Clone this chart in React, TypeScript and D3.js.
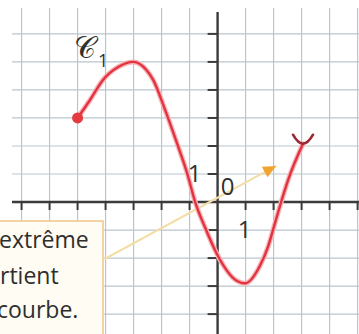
import React from 'react';
import * as d3 from 'd3';

const W = 359;
const H = 334;

// repère : origine et unité (1 carreau = 1 unité)
const xDomain = [-7.77, 5.05];
const yDomain = [7.21, -4.71];

const gridXs = [-7, -6, -5, -4, -3, -2, -1, 0, 1, 2, 3, 4, 5];
const gridYs = [6, 5, 4, 3, 2, 1, 0, -1, -2, -3, -4];
const xTicks = [-7, -6, -5, -4, -3, -2, -1, 1, 2, 3, 4, 5];
const yTicks = [6, 5, 4, 3, 2, 1, -1, -2, -3, -4];

// courbe C1 (points relevés)
const curveX = [-5, -4.55, -4.1, -3.55, -3, -2.54, -2.3, -1.875, -1.45, -1.09, -0.8, -0.45, 0, 0.27, 0.6, 0.98, 1.5, 1.8, 2.05, 2.27, 2.52, 3.05];
const curveY = [3, 3.65, 4.35, 4.82, 5, 4.71, 4.36, 3.29, 2.1, 1.04, 0, -0.9, -1.9, -2.36, -2.75, -2.9, -2.3, -1.6, -0.75, 0, 0.79, 2.08];

const arrowFrom = [-4.05, -2.04];
const arrowTo = [2.09, 1.29];

const calloutLines = ['extrême', 'rtient', 'courbe.'];

const x = d3.scaleLinear().domain(xDomain).range([0, W]);
const y = d3.scaleLinear().domain(yDomain).range([0, H]);

const App = () => {
  const pts = curveX.map((v, i) => [x(v), y(curveY[i])] as [number, number]);
  const line = d3.line().curve(d3.curveMonotoneX);
  const path = line(pts) || '';

  const x0 = x(0);
  const y0 = y(0);
  const gridLeft = 12;
  const gridTop = 8;

  const [sx, sy] = pts[0];
  const [ex, ey] = pts[pts.length - 1];

  const ax1 = x(arrowFrom[0]);
  const ay1 = y(arrowFrom[1]);
  const ax2 = x(arrowTo[0]);
  const ay2 = y(arrowTo[1]);
  const ang = (Math.atan2(ay2 - ay1, ax2 - ax1) * 180) / Math.PI;

  const font = "'Open Sans', 'DejaVu Sans', sans-serif";

  return (
    <svg width={W} height={H} style={{ position: 'absolute', left: 0, top: 0, background: '#fff' }}>
      {/* quadrillage */}
      <g stroke="#b9c5cc" strokeWidth={1.2}>
        {gridXs.filter(v => v !== 0).map(v => (
          <line key={'gx' + v} x1={x(v)} x2={x(v)} y1={gridTop} y2={H} />
        ))}
        {gridYs.filter(v => v !== 0).map(v => (
          <line key={'gy' + v} x1={gridLeft} x2={W} y1={y(v)} y2={y(v)} />
        ))}
      </g>

      {/* axes */}
      <g stroke="#3b3b3b" strokeWidth={2.4}>
        <line x1={gridLeft} x2={W} y1={y0} y2={y0} />
        <line x1={x0} x2={x0} y1={12} y2={H} />
      </g>
      <g stroke="#3b3b3b" strokeWidth={2}>
        {xTicks.map(v => (
          <line key={'tx' + v} x1={x(v)} x2={x(v)} y1={y0} y2={y0 + 8} />
        ))}
        {yTicks.map(v => (
          <line key={'ty' + v} x1={x0 - 10} x2={x0} y1={y(v)} y2={y(v)} />
        ))}
      </g>

      {/* flèche de la bulle */}
      <line x1={ax1} y1={ay1} x2={ax2} y2={ay2} stroke="#f3dfa6" strokeWidth={2.2} />
      <path
        d="M0,0 L-13,-6 L-13,6 Z"
        fill="#f0a530"
        transform={`translate(${ax2},${ay2}) rotate(${ang})`}
      />

      {/* courbe */}
      <path d={path} fill="none" stroke="#f7b3b8" strokeWidth={5} strokeLinecap="round" />
      <path d={path} fill="none" stroke="#e2333f" strokeWidth={2.4} strokeLinecap="round" />
      <circle cx={sx} cy={sy} r={5.5} fill="#e53a40" />
      <path
        d="M-10,-9 Q0,9 10,-9"
        fill="none"
        stroke="#9a2a34"
        strokeWidth={2.6}
        strokeLinecap="round"
        transform={`translate(${ex},${ey})`}
      />

      {/* étiquettes */}
      <g fill="#2f2f2f" fontFamily={font}>
        <text x={x0 + 10} y={y0 - 7} fontSize={24} textAnchor="middle">0</text>
        <text x={x(1) - 1} y={y0 + 36} fontSize={24} textAnchor="middle">1</text>
        <text x={x0 - 23} y={y(1) + 8} fontSize={24} textAnchor="middle">1</text>
        <text x={74} y={58} fontSize={30} fontFamily="'DejaVu Serif', serif">𝒞</text>
        <text x={98} y={67} fontSize={18}>1</text>
      </g>

      {/* bulle */}
      <rect x={-3} y={221} width={106} height={116} fill="#fffcf3" stroke="#f1c98f" strokeWidth={1.6} />
      <g fill="#2e2e2e" fontFamily={font} fontSize={23}>
        <text x={-1} y={248}>{calloutLines[0]}</text>
        <text x={0} y={284}>{calloutLines[1]}</text>
        <text x={-3} y={318}>{calloutLines[2]}</text>
      </g>
    </svg>
  );
};

export default App;
